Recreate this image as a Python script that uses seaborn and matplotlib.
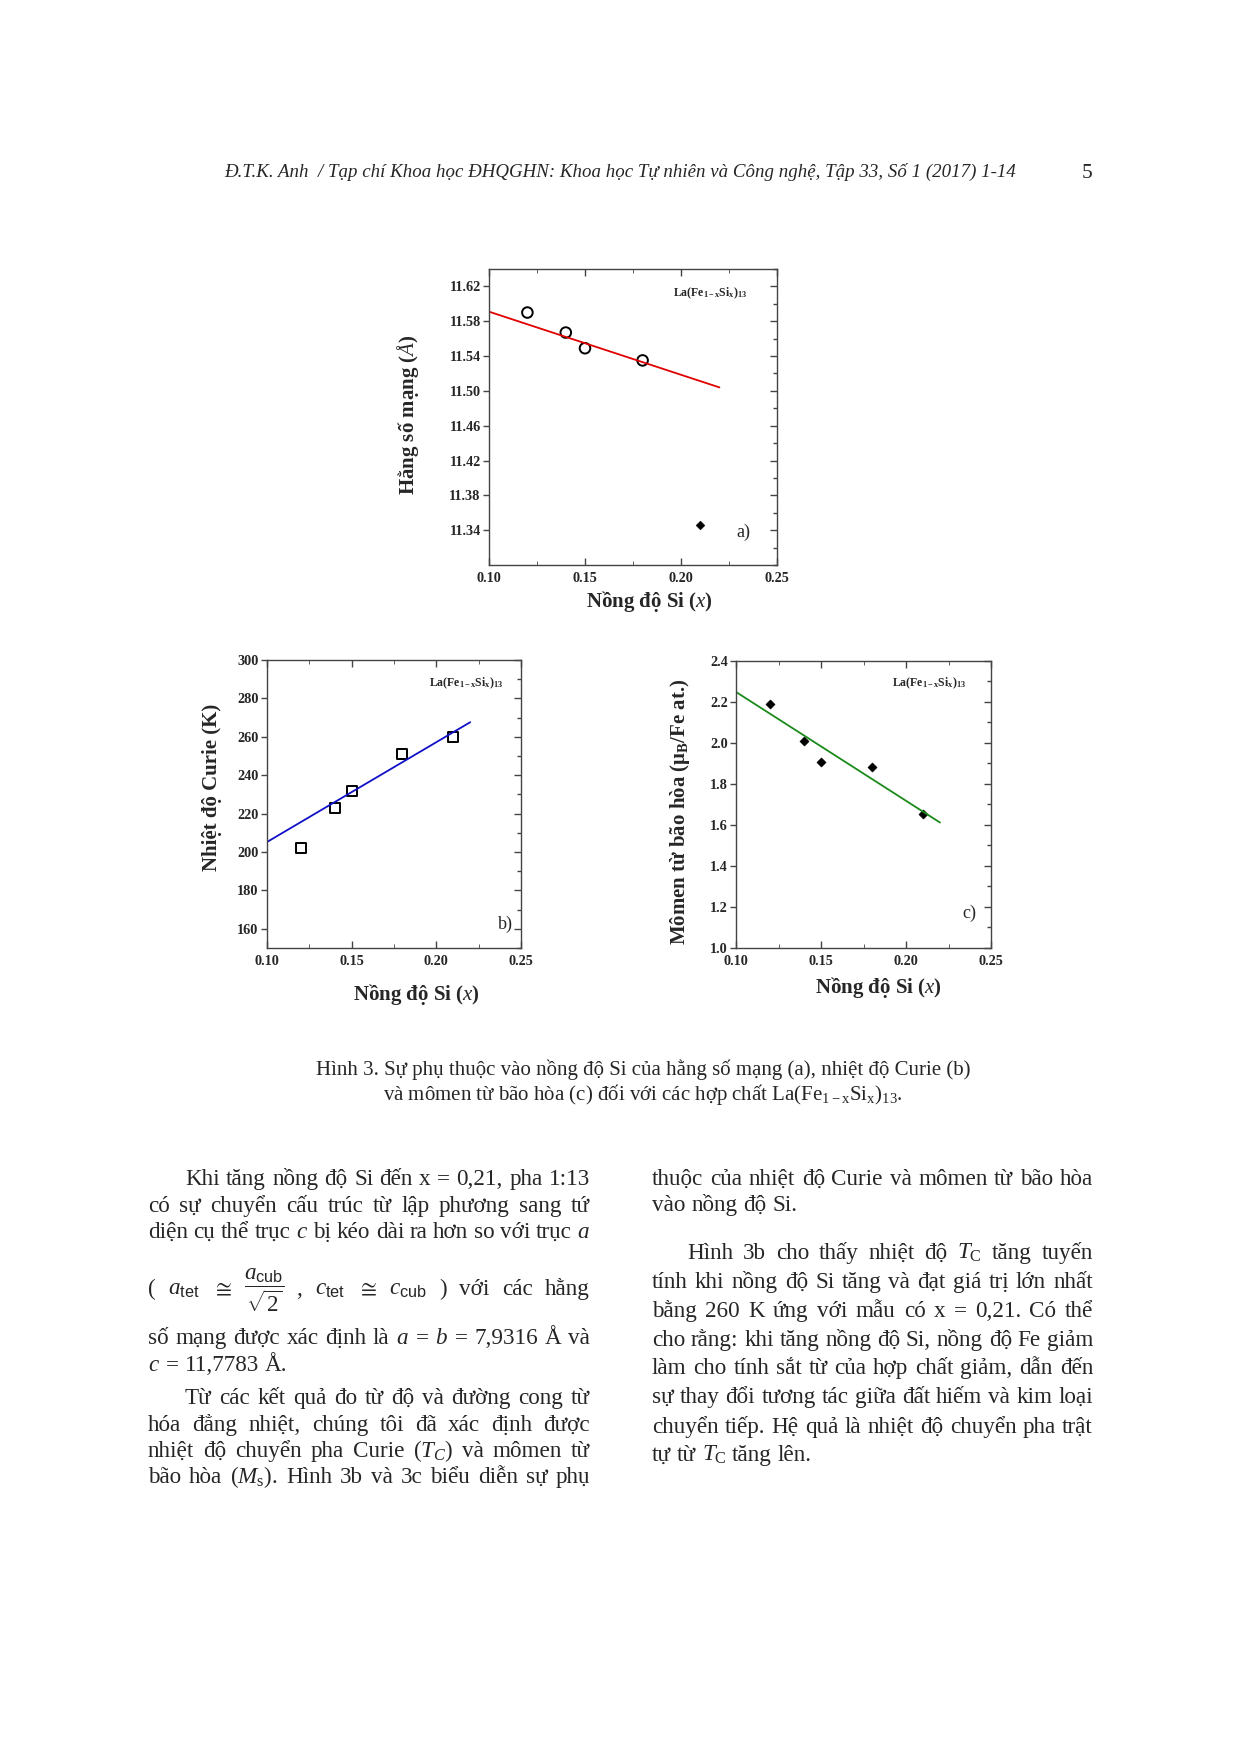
import numpy as np
import pandas as pd
import matplotlib
matplotlib.use('Agg')
from matplotlib import pyplot as plt
from matplotlib.ticker import MultipleLocator, FixedLocator, FormatStrFormatter
import seaborn as sns

### data
x_ticks = [0.10, 0.15, 0.20, 0.25]

# a) lattice constant
lat_x = [0.12, 0.14, 0.15, 0.18]
lat_val = [11.590, 11.567, 11.549, 11.535]
lat_tet_x = [0.21]
lat_tet_val = [11.346]
lat_fit_x = [0.10, 0.22]
lat_fit_y = [11.591, 11.504]
lat_ticks = [11.34, 11.38, 11.42, 11.46, 11.50, 11.54, 11.58, 11.62]

# b) Curie temperature
tc_x = [0.12, 0.14, 0.15, 0.18, 0.21]
tc_val = [202, 223, 232, 251, 260]
tc_fit_x = [0.10, 0.22]
tc_fit_y = [205.2, 267.6]
tc_ticks = [160, 180, 200, 220, 240, 260, 280, 300]

# c) saturation moment
ms_x = [0.12, 0.14, 0.15, 0.18, 0.21]
ms_val = [2.192, 2.009, 1.909, 1.883, 1.654]
ms_fit_x = [0.10, 0.22]
ms_fit_y = [2.249, 1.612]
ms_ticks = [1.0, 1.2, 1.4, 1.6, 1.8, 2.0, 2.2, 2.4]

sns.set_style('ticks')
serif = ['Liberation Serif', 'DejaVu Serif']
plt.rcParams['font.family'] = serif
plt.rcParams.update({
    'mathtext.fontset': 'custom',
    'mathtext.rm': 'Liberation Serif',
    'mathtext.it': 'Liberation Serif:italic',
    'mathtext.bf': 'Liberation Serif:bold',
    'mathtext.sf': 'Liberation Sans',
})

W, H = 1240, 1753
fig = plt.figure(figsize=(W / 100, H / 100), dpi=100)
fig.patch.set_facecolor('white')


def put(x, y, s, **kw):
    # x, y in page pixels, measured from top left
    return fig.text(x / W, 1 - y / H, s, **kw)


def style_axes(ax, ylim, yticks, yminor, yfmt):
    ax.set_xlim(0.10, 0.25)
    ax.set_ylim(*ylim)
    ax.xaxis.set_major_locator(FixedLocator(x_ticks))
    ax.xaxis.set_minor_locator(MultipleLocator(0.025))
    ax.xaxis.set_major_formatter(FormatStrFormatter('%.2f'))
    ax.yaxis.set_major_locator(FixedLocator(yticks))
    ax.yaxis.set_major_formatter(FormatStrFormatter(yfmt))
    ax.tick_params(axis='x', which='both', direction='in', top=True, bottom=True, color='#444444')
    ax.tick_params(axis='x', which='major', length=5, pad=5)
    ax.tick_params(axis='x', which='minor', length=3)
    ax.tick_params(axis='y', which='major', direction='out', length=4, pad=2, color='#444444')
    ax.tick_params(axis='both', labelsize=10.3, width=1)
    for lab in ax.get_xticklabels() + ax.get_yticklabels():
        lab.set_fontweight('bold')
    for sp in ax.spines.values():
        sp.set_visible(True)
        sp.set_color('#444444')
        sp.set_linewidth(1.0)
    ax.set_xlabel('')
    ax.set_ylabel('')
    # inward ticks on the right side
    tw = ax.twinx()
    tw.set_ylim(*ylim)
    tw.yaxis.set_major_locator(FixedLocator(yticks))
    tw.yaxis.set_minor_locator(MultipleLocator(yminor))
    tw.tick_params(which='both', direction='in', labelright=False, color='#444444', width=1)
    tw.tick_params(which='major', length=5)
    tw.tick_params(which='minor', length=3)
    for sp in tw.spines.values():
        sp.set_visible(False)


def labels(ax, xl, yl, xpos, ypos, tag, tagpos, legpos):
    ax.text(xpos[0], xpos[1], xl, transform=ax.transAxes, ha='center', va='center',
            fontsize=15, fontweight='bold')
    ax.text(ypos[0], ypos[1], yl, transform=ax.transAxes, ha='center', va='center',
            fontsize=15, fontweight='bold', rotation=90)
    ax.text(tagpos[0], tagpos[1], tag, transform=ax.transAxes, ha='center', va='center', fontsize=13)
    ax.text(legpos[0], legpos[1], r'$\mathbf{La(Fe_{1-x}Si_x)_{13}}$', transform=ax.transAxes,
            ha='left', va='center', fontsize=8.5)


xlab = r'Nồng độ Si ($\mathit{x}$)'

### panel a
axa = fig.add_axes([489 / W, 1 - 565 / H, 288 / W, 296 / H])
sns.lineplot(x=lat_fit_x, y=lat_fit_y, ax=axa, color='#e00000', lw=1.3)
sns.scatterplot(x=lat_x, y=lat_val, ax=axa, marker='o', s=58, fc='none', ec='black', linewidth=1.4)
sns.scatterplot(x=lat_tet_x, y=lat_tet_val, ax=axa, marker='D', s=20, color='black', ec='black')
style_axes(axa, (11.30, 11.64), lat_ticks, 0.02, '%.2f')
labels(axa, xlab, r'Hằng số mạng ($\mathit{Å}$)', (0.556, -0.125), (-0.281, 0.507),
       'a)', (0.882, 0.111), (0.639, 0.919))

### panel b
axb = fig.add_axes([267 / W, 1 - 948 / H, 254 / W, 288 / H])
sns.lineplot(x=tc_fit_x, y=tc_fit_y, ax=axb, color='#1010c8', lw=1.3)
sns.scatterplot(x=tc_x, y=tc_val, ax=axb, marker='s', s=52, fc='none', ec='black', linewidth=1.4)
style_axes(axb, (150, 300), tc_ticks, 10, '%d')
labels(axb, xlab, 'Nhiệt độ Curie (K)', (0.59, -0.163), (-0.217, 0.556),
       'b)', (0.937, 0.083), (0.638, 0.92))

### panel c
axc = fig.add_axes([736 / W, 1 - 948 / H, 255 / W, 287 / H])
sns.lineplot(x=ms_fit_x, y=ms_fit_y, ax=axc, color='#1a8a1a', lw=1.3)
sns.scatterplot(x=ms_x, y=ms_val, ax=axc, marker='D', s=22, color='black', ec='black')
style_axes(axc, (1.0, 2.4), ms_ticks, 0.1, '%.1f')
labels(axc, xlab, r'Mômen từ bão hòa (μ$_\mathbf{B}$/Fe at.)', (0.557, -0.139), (-0.22, 0.474),
       'c)', (0.914, 0.122), (0.612, 0.923))

### header and caption
put(224, 177, 'Đ.T.K. Anh  / Tạp chí Khoa học ĐHQGHN: Khoa học Tự nhiên và Công nghệ, Tập 33, Số 1 (2017) 1-14',
    fontsize=13.6, style='italic', va='baseline')
put(1087, 178, '5', fontsize=15.5, ha='center', va='baseline')
put(643, 1075, 'Hình 3. Sự phụ thuộc vào nồng độ Si của hằng số mạng (a), nhiệt độ Curie (b)',
    fontsize=15, ha='center', va='baseline')
put(643, 1100, r'và mômen từ bão hòa (c) đối với các hợp chất La(Fe$_{\mathrm{1-x}}$Si$_{\mathrm{x}}$)$_{\mathrm{13}}$.',
    fontsize=15, ha='center', va='baseline')

### body text, justified word by word
renderer = fig.canvas.get_renderer()
BODY = 16.7


def para_line(line, x0, x1, y, indent=0, last=False):
    words = line.split(' ')
    ts = [put(0, y, w, fontsize=BODY, va='baseline') for w in words]
    widths = [t.get_window_extent(renderer).width for t in ts]
    left = x0 + indent
    if last or len(words) == 1:
        gap = BODY * 100 / 72 * 0.25
    else:
        gap = (x1 - left - sum(widths)) / (len(words) - 1)
    x = left
    for t, w in zip(ts, widths):
        t.set_x(x / W)
        x += w + gap


frac = r'$\dfrac{a_{\mathsf{cub}}}{\sqrt{2}}$'
left_col = [
    ('Khi tăng nồng độ Si đến x = 0,21, pha 1:13', 1185, True, False),
    ('có sự chuyển cấu trúc từ lập phương sang tứ', 1212, False, False),
    ('diện cụ thể trục $c$ bị kéo dài ra hơn so với trục $a$', 1238, False, False),
    ('( $a_{\\mathsf{tet}}$ $\\cong$ ' + frac + ' , $c_{\\mathsf{tet}}$ $\\cong$ $c_{\\mathsf{cub}}$ ) với các hằng',
     1295, False, False),
    ('số mạng được xác định là $a$ = $b$ = 7,9316 Å và', 1344, False, False),
    ('$c$ = 11,7783 Å.', 1371, False, True),
    ('Từ các kết quả đo từ độ và đường cong từ', 1404, True, False),
    ('hóa đẳng nhiệt, chúng tôi đã xác định được', 1431, False, False),
    ('nhiệt độ chuyển pha Curie ($T_C$) và mômen từ', 1457, False, False),
    ('bão hòa ($M_{\\mathrm{s}}$). Hình 3b và 3c biểu diễn sự phụ', 1483, False, False),
]
right_col = [
    ('thuộc của nhiệt độ Curie và mômen từ bão hòa', 1185, False, False),
    ('vào nồng độ Si.', 1211, False, True),
    ('Hình 3b cho thấy nhiệt độ $T_{\\mathrm{C}}$ tăng tuyến', 1259, True, False),
    ('tính khi nồng độ Si tăng và đạt giá trị lớn nhất', 1288, False, False),
    ('bằng 260 K ứng với mẫu có x = 0,21. Có thể', 1317, False, False),
    ('cho rằng: khi tăng nồng độ Si, nồng độ Fe giảm', 1346, False, False),
    ('làm cho tính sắt từ của hợp chất giảm, dẫn đến', 1374, False, False),
    ('sự thay đổi tương tác giữa đất hiếm và kim loại', 1403, False, False),
    ('chuyển tiếp. Hệ quả là nhiệt độ chuyển pha trật', 1433, False, False),
    ('tự từ $T_{\\mathrm{C}}$ tăng lên.', 1461, False, True),
]

for line, y, ind, last in left_col:
    para_line(line, 148, 590, y, indent=37 if ind else 0, last=last)
for line, y, ind, last in right_col:
    para_line(line, 652, 1093, y, indent=35 if ind else 0, last=last)

fig.savefig('out.png', dpi=100)
